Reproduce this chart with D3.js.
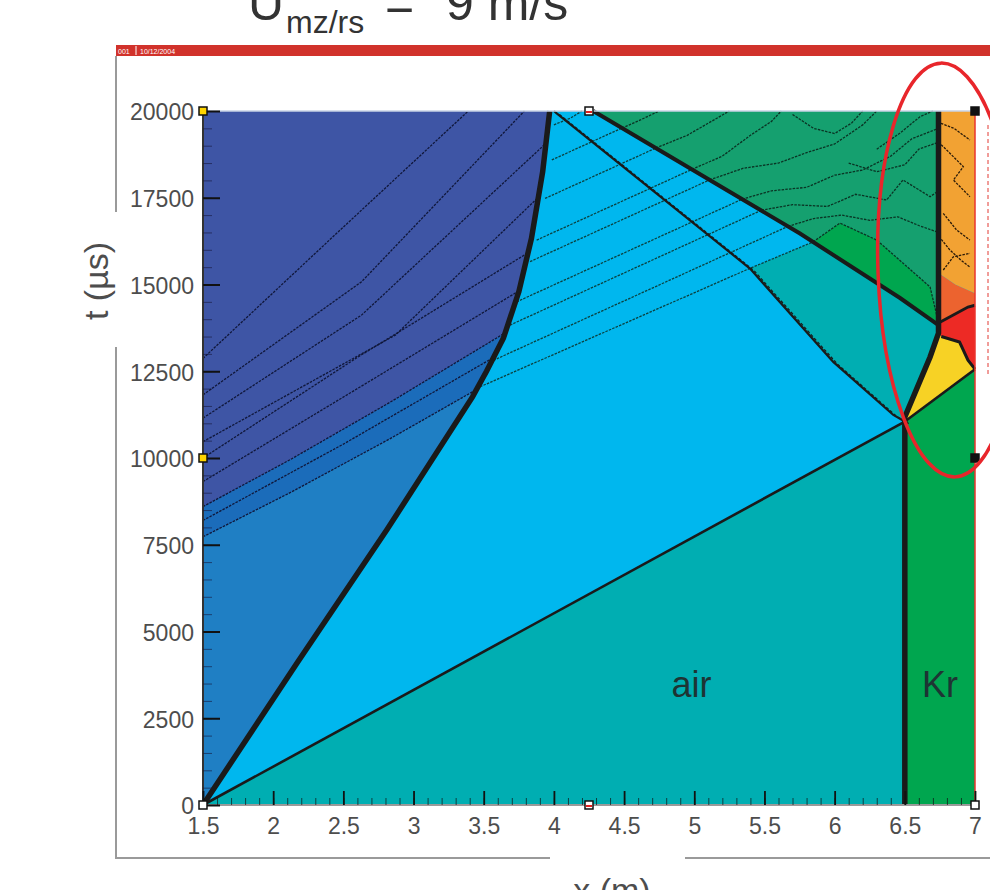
<!DOCTYPE html>
<html>
<head>
<meta charset="utf-8">
<script src="https://cdn.jsdelivr.net/npm/d3@7"></script>
<style>
  body { margin: 0; background: #fff; }
  svg { display: block; font-family: "Liberation Sans", Arial, sans-serif; }
  .tick text { fill: #4d4d4d; font-size: 23px; }
</style>
</head>
<body>
<figure style="margin:0"></figure>
<script>
// ---- data (x in m, t in microseconds) ----
const xTicks = [1.5, 2, 2.5, 3, 3.5, 4, 4.5, 5, 5.5, 6, 6.5, 7]
const xTickLabels = ["1.5", "2", "2.5", "3", "3.5", "4", "4.5", "5", "5.5", "6", "6.5", "7"]
const tTicks = [0, 2500, 5000, 7500, 10000, 12500, 15000, 17500, 20000]
const tTickLabels = ["0", "2500", "5000", "7500", "10000", "12500", "15000", "17500", "20000"]

// wave fronts
const contactPts = [[1.5, 0], [2.17, 4090], [2.81, 7930], [3.42, 11760], [3.52, 12500], [3.64, 13450], [3.75, 14790], [3.84, 16330], [3.92, 18250], [3.97, 20000]]
const shockPts = [[1.5, 0], [6.5, 11050]]
const interfacePts = [[6.5, 0], [6.5, 11180], [6.68, 12910], [6.74, 13600], [6.74, 20000]]
const transShockPts = [[6.5, 11050], [7, 12560]]
const wallShockPts = [[7, 12560], [6.95, 12820], [6.89, 13340], [6.76, 13500]]
const reflShockPts = [[4.28, 20000], [5.753, 16470], [6.466, 14610], [6.74, 13830]]
const reflWavePts = [[6.5, 11050], [6.418, 11240], [5.99, 12770], [5.397, 15460], [4.02, 19930], [4.0, 20000]]
const fanHeadPts = [[5.397, 15460], [5.846, 16227]]
const greenBandPts = [[5.846, 16227], [6.038, 16770], [6.30, 16280], [6.68, 14930], [6.74, 13900]]
const redTopPts = [[6.74, 13890], [6.95, 14350], [7, 14400]]
const orangeTopPts = [[6.74, 15330], [6.86, 15000], [7, 14750]]
const bandLowPts = [[1.5, 7730], [2.12, 9000], [2.83, 10550], [3.46, 12000]]
const bandHighPts = [[1.5, 8600], [2.12, 9950], [2.83, 11600], [3.65, 13600]]

// contour lines inside the regions
const indigoContours = [
    [[1.5, 12870], [2.44, 16430], [3.39, 20000]],
    [[1.5, 11820], [2.63, 15080], [3.79, 20000]],
    [[1.5, 11150], [2.63, 14120], [3.93, 19020]],
    [[1.5, 10470], [2.87, 13540], [3.88, 17480]],
    [[1.5, 10000], [2.6, 12900], [3.83, 15950]],
    [[1.5, 9320], [2.6, 12000], [3.74, 14790]],
    [[1.5, 8200], [2.5, 10400], [3.55, 12850]]
]
const fanLines = [
    [[3.45, 12010], [5.397, 15467], [5.846, 16227]],
    [[3.545, 12770], [5.668, 16676]],
    [[3.687, 13830], [5.479, 17142]],
    [[3.734, 14500], [5.341, 17458]],
    [[3.83, 15660], [5.109, 18014]],
    [[3.877, 16280], [4.983, 18316]],
    [[3.937, 17480], [4.726, 18932]],
    [[3.985, 18590], [4.485, 19509]],
    [[4.0, 19600], [4.12, 19800], [4.2, 20000]]
]
const greenContours = [
    [[4.485, 19509], [4.62, 19750], [4.75, 20000]],
    [[4.726, 18932], [4.95, 19300], [5.1, 19650], [5.25, 20000]],
    [[4.983, 18316], [5.2, 18700], [5.4, 19300], [5.55, 19700], [5.62, 20000]],
    [[5.109, 18014], [5.35, 18350], [5.6, 18500], [5.8, 18800], [6.0, 19050], [6.2, 19600], [6.3, 20000]],
    [[5.341, 17458], [5.55, 17700], [5.8, 17800], [6.0, 18150], [6.2, 18300], [6.4, 18700], [6.55, 19200], [6.74, 19500]],
    [[5.479, 17142], [5.7, 17300], [5.95, 17250], [6.15, 17600], [6.37, 17435], [6.487, 18012], [6.68, 17530], [6.74, 17700]],
    [[5.668, 16676], [5.85, 16900], [6.05, 17000], [6.25, 16850], [6.45, 16950], [6.6, 16700], [6.74, 16500]],
    [[5.7, 19900], [5.85, 19500], [6.0, 19350], [6.12, 19650], [6.2, 20000]],
    [[6.3, 18900], [6.466, 19365], [6.608, 19836], [6.7, 20000]],
    [[6.1, 18500], [6.3, 18250], [6.5, 18450], [6.6, 18900], [6.74, 19100]]
]
const orangeContours = [
    [[6.757, 19645], [6.85, 19500], [6.964, 19164]],
    [[6.74, 19100], [6.798, 18876], [6.917, 18395], [6.846, 18012], [6.964, 17530]],
    [[6.774, 17050], [6.869, 16570], [6.964, 16282]],
    [[6.774, 15418], [6.846, 15800], [6.964, 15898]],
    [[6.76, 16300], [6.82, 16000], [6.9, 15700], [6.964, 15500]]
]

// region colours
const colorIndigo = "#3e55a5", colorBand = "#1b6cba", colorDriver = "#1f7fc4",
    colorShocked = "#00b7ee", colorAir = "#00aeb2", colorKr = "#00a64f",
    colorDarkGreen = "#15a06f", colorYellow = "#f7d225", colorRed = "#ed2a25",
    colorOrangeRed = "#ec632f", colorOrange = "#f2a233"

// ---- chart ----
const svg = d3.select("figure").append("svg").attr("width", 990).attr("height", 890)
const x = d3.scaleLinear().domain([1.5, 7]).range([203, 975])
const y = d3.scaleLinear().domain([0, 20000]).range([805, 111])
const line = d3.line().x(d => x(d[0])).y(d => y(d[1]))
const poly = pts => line(pts) + "Z"

// page frame with red strip on top
svg.append("rect").attr("x", 116).attr("y", 45).attr("width", 874).attr("height", 11).attr("fill", "#d1322b")
svg.append("text").attr("x", 118).attr("y", 53.5).attr("fill", "#fff").style("font-size", "7px").text("001")
svg.append("line").attr("x1", 136).attr("x2", 136).attr("y1", 46).attr("y2", 55).attr("stroke", "#fff")
svg.append("text").attr("x", 140).attr("y", 53.5).attr("fill", "#fff").style("font-size", "7px").text("10/12/2004")
const frame = svg.append("g").attr("stroke", "#9a9a9a").attr("stroke-width", 2)
frame.append("line").attr("x1", 116).attr("x2", 116).attr("y1", 56).attr("y2", 212)
frame.append("line").attr("x1", 116).attr("x2", 116).attr("y1", 347).attr("y2", 859)
frame.append("line").attr("x1", 115).attr("x2", 550).attr("y1", 858).attr("y2", 858)
frame.append("line").attr("x1", 685).attr("x2", 990).attr("y1", 858).attr("y2", 858)

// title
const title = svg.append("g").attr("fill", "#333")
title.append("text").attr("x", 248).attr("y", 20).style("font-size", "50px").text("U")
title.append("text").attr("x", 286).attr("y", 33).style("font-size", "32px").text("mz/rs")
title.append("text").attr("x", 385).attr("y", 20).style("font-size", "50px").text("=")
title.append("text").attr("x", 446).attr("y", 20).style("font-size", "50px").text("9 m/s")

// regions
const plot = svg.append("g")
plot.append("rect").attr("x", x(1.5)).attr("y", y(20000)).attr("width", x(7) - x(1.5)).attr("height", y(0) - y(20000)).attr("fill", colorShocked)
const regions = [
    [[[1.5, 0], [6.5, 0], [6.5, 11050]], colorAir],
    [[[6.5, 0], [7, 0], [7, 12560], [6.5, 11050]], colorKr],
    [[...contactPts, [1.5, 20000]], colorDriver],
    [[...bandLowPts, ...contactPts.filter(p => p[1] > 12000), [1.5, 20000]], colorBand],
    [[...bandHighPts, ...contactPts.filter(p => p[1] > 13600), [1.5, 20000]], colorIndigo],
    [[...reflShockPts, [6.74, 20000]], colorDarkGreen],
    [[...greenBandPts, [6.74, 13830], [6.466, 14610]], colorKr],
    [[...reflWavePts.slice(0, 4), fanHeadPts[1], ...reflShockPts.slice(2), ...interfacePts.slice(1, 4).reverse()], colorAir],
    [[...transShockPts, ...wallShockPts.slice(1), ...interfacePts.slice(1, 4).reverse()], colorYellow],
    [[...wallShockPts, [6.74, 13600], ...redTopPts], colorRed],
    [[...redTopPts, ...orangeTopPts.slice().reverse()], colorOrangeRed],
    [[...orangeTopPts, [7, 20000], [6.74, 20000]], colorOrange]
]
plot.selectAll("path.region").data(regions).enter().append("path").classed("region", true)
    .attr("d", d => poly(d[0])).attr("fill", d => d[1])

// contour lines
function contours(data, color) {
    plot.append("g").selectAll("path").data(data).enter().append("path")
        .attr("d", line).attr("fill", "none").attr("stroke", color)
        .attr("stroke-width", 1.3).attr("stroke-dasharray", "2.5 1.2")
}
contours(indigoContours, "#10173a")
contours([bandLowPts, bandHighPts], "#10173a")
contours(fanLines, "#0a4240")
contours(greenContours, "#0a3424")
contours([greenBandPts], "#0a3424")
contours(orangeContours, "#2a1a08")

// wave fronts
const fronts = [
    [reflWavePts, 2.2],
    [shockPts, 2.6],
    [transShockPts, 2.6],
    [wallShockPts, 3],
    [redTopPts, 3],
    [reflShockPts, 4],
    [interfacePts, 5.5],
    [contactPts, 5.5]
]
plot.selectAll("path.front").data(fronts).enter().append("path").classed("front", true)
    .attr("d", d => line(d[0])).attr("fill", "none").attr("stroke", "#1a1a1a")
    .attr("stroke-width", d => d[1]).attr("stroke-linejoin", "miter")
// double look of the reflected wave
plot.append("path").attr("d", line(reflWavePts)).attr("fill", "none").attr("stroke", "#1a1a1a")
    .attr("stroke-width", 1.2).attr("stroke-dasharray", "3 2").attr("transform", "translate(4,2)")

// plot borders
plot.append("line").attr("x1", x(7)).attr("x2", x(7)).attr("y1", y(0)).attr("y2", y(20000)).attr("stroke", "#e8342e").attr("stroke-width", 1.5)
plot.append("line").attr("x1", x(1.5)).attr("x2", x(7)).attr("y1", y(20000)).attr("y2", y(20000)).attr("stroke", "#c9d3e6").attr("stroke-width", 1.5)
plot.append("line").attr("x1", x(1.5)).attr("x2", x(7)).attr("y1", y(0)).attr("y2", y(0)).attr("stroke", "#9a9a9a").attr("stroke-width", 2)
plot.append("line").attr("x1", x(1.5)).attr("x2", x(1.5)).attr("y1", y(0)).attr("y2", y(20000)).attr("stroke", "#333").attr("stroke-width", 2)

// axes: minor ticks, then major ticks with labels
svg.append("g").attr("transform", `translate(${x(1.5)},0)`)
    .call(d3.axisLeft(y).tickValues(d3.range(0, 20001, 500)).tickSize(-9).tickFormat(""))
    .call(g => g.selectAll("line").attr("stroke", "#15153a").attr("stroke-opacity", 0.6))
svg.append("g").attr("transform", `translate(${x(1.5)},0)`)
    .call(d3.axisLeft(y).tickValues(tTicks).tickSize(-17).tickPadding(9).tickFormat((d, i) => tTickLabels[i]))
    .call(g => g.selectAll("line").attr("stroke", "#111").attr("stroke-width", 2))
    .call(g => g.selectAll("text").attr("dy", "0.38em"))
svg.append("g").attr("transform", `translate(0,${y(0)})`)
    .call(d3.axisBottom(x).tickValues(d3.range(15, 71).map(d => d / 10)).tickSize(-7).tickFormat(""))
    .call(g => g.selectAll("line").attr("stroke", "#111").attr("stroke-opacity", 0.7))
svg.append("g").attr("transform", `translate(0,${y(0)})`)
    .call(d3.axisBottom(x).tickValues(xTicks).tickSize(-14).tickPadding(13).tickFormat((d, i) => xTickLabels[i]))
    .call(g => g.selectAll("line").attr("stroke", "#111").attr("stroke-width", 1.8))
svg.selectAll(".domain").remove()

// axis titles
svg.append("text").attr("transform", "translate(108,281) rotate(-90)").attr("text-anchor", "middle")
    .attr("fill", "#4d4d4d").style("font-size", "34px").text("t (µs)")
svg.append("text").attr("x", 612).attr("y", 902).attr("text-anchor", "middle")
    .attr("fill", "#4d4d4d").style("font-size", "34px").text("x (m)")

// gas labels
svg.append("text").attr("x", x(4.98)).attr("y", y(3100)).attr("text-anchor", "middle")
    .attr("fill", "#1e3434").style("font-size", "36px").text("air")
svg.append("text").attr("x", x(6.75)).attr("y", y(3100)).attr("text-anchor", "middle")
    .attr("fill", "#1e3434").style("font-size", "36px").text("Kr")

// selection handles of the pasted picture
const handles = [[1.5, 20000, "#ffd500"], [1.5, 10000, "#ffd500"], [1.5, 0, "#fff"], [4.25, 20000, "#fff"], [4.25, 0, "#fff"], [7, 20000, "#111"], [7, 10000, "#111"], [7, 0, "#fff"]]
const hg = svg.append("g")
hg.selectAll("rect").data(handles).enter().append("rect")
    .attr("x", d => x(d[0]) - 4).attr("y", d => y(d[1]) - 4).attr("width", 8).attr("height", 8)
    .attr("fill", d => d[2]).attr("stroke", "#111").attr("stroke-width", 1.5)
hg.selectAll("line").data(handles.filter(d => d[0] == 4.25)).enter().append("line")
    .attr("x1", d => x(d[0]) - 3).attr("x2", d => x(d[0]) + 3).attr("y1", d => y(d[1]) + 1).attr("y2", d => y(d[1]) + 1)
    .attr("stroke", "#e02020").attr("stroke-width", 2)

// dotted red edge of the next panel and the red highlight ellipse
svg.append("line").attr("x1", 988).attr("x2", 988).attr("y1", 125).attr("y2", 375)
    .attr("stroke", "#e23a34").attr("stroke-width", 1).attr("stroke-dasharray", "4 3")
svg.append("ellipse").attr("cx", 948).attr("cy", 270).attr("rx", 70).attr("ry", 207)
    .attr("transform", "rotate(-2,948,270)")
    .attr("fill", "none").attr("stroke", "#e8262b").attr("stroke-width", 3.5)
</script>
</body>
</html>
